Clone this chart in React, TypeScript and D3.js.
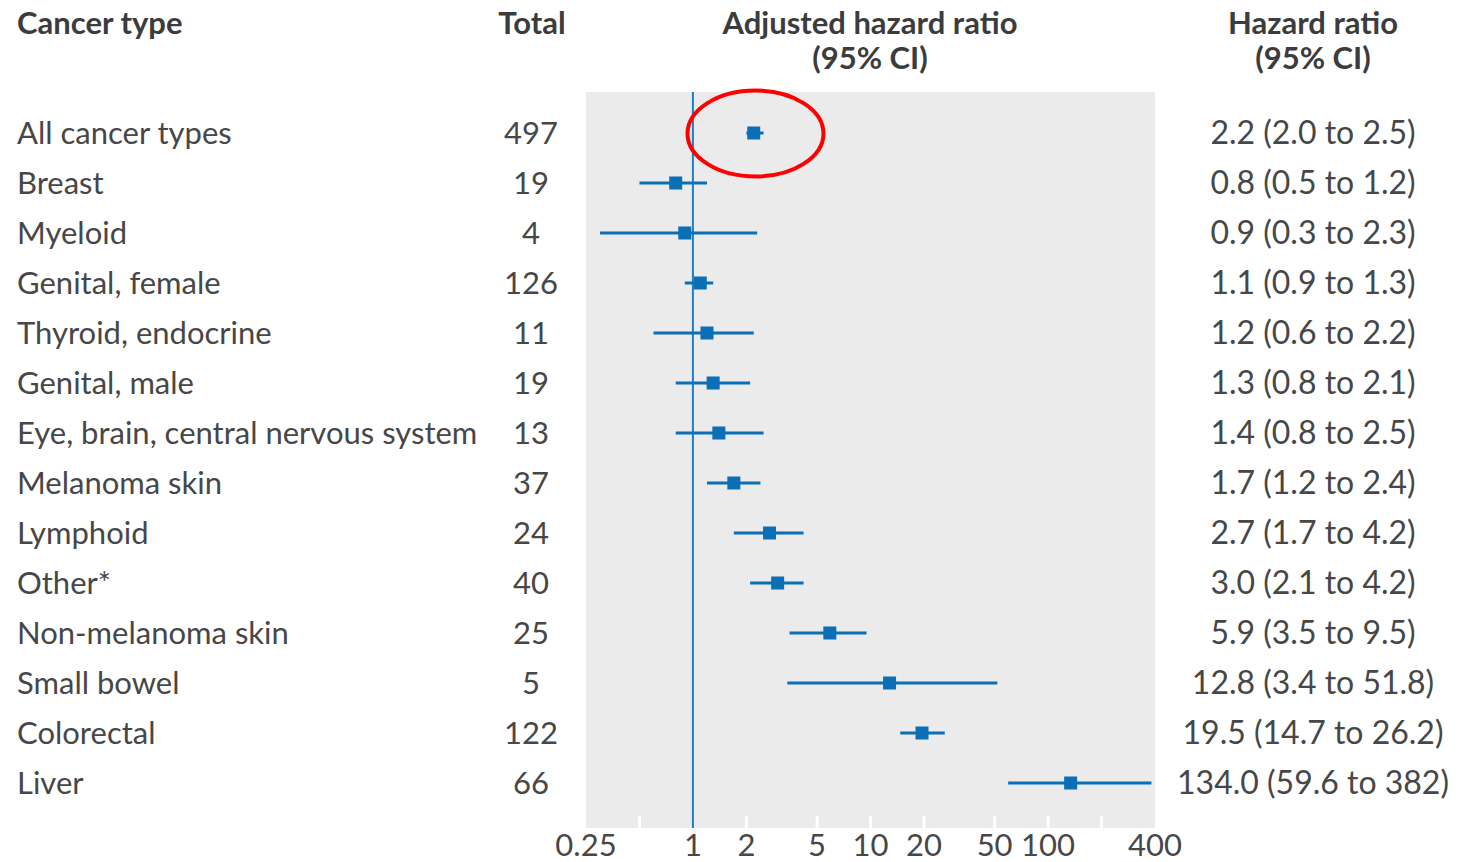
import React from "react";
import * as d3 from "d3";

// rows, top to bottom
const cancerTypes = [
  "All cancer types",
  "Breast",
  "Myeloid",
  "Genital, female",
  "Thyroid, endocrine",
  "Genital, male",
  "Eye, brain, central nervous system",
  "Melanoma skin",
  "Lymphoid",
  "Other*",
  "Non-melanoma skin",
  "Small bowel",
  "Colorectal",
  "Liver",
];
const totals = [497, 19, 4, 126, 11, 19, 13, 37, 24, 40, 25, 5, 122, 66];
const hazard = [2.2, 0.8, 0.9, 1.1, 1.2, 1.3, 1.4, 1.7, 2.7, 3.0, 5.9, 12.8, 19.5, 134.0];
const ciLow = [2.0, 0.5, 0.3, 0.9, 0.6, 0.8, 0.8, 1.2, 1.7, 2.1, 3.5, 3.4, 14.7, 59.6];
const ciHigh = [2.5, 1.2, 2.3, 1.3, 2.2, 2.1, 2.5, 2.4, 4.2, 4.2, 9.5, 51.8, 26.2, 382];

const tickMarks = [0.5, 2, 5, 10, 20, 50, 100, 200];
const tickLabels = [0.25, 1, 2, 5, 10, 20, 50, 100, 400];

const W = 1473;
const H = 862;
const FONT = "Lato, 'Open Sans', sans-serif";
const BLUE = "#0a6fb6";
const TEXT = "#474747";
const FS = 31;

// upper limits of 100+ are printed without decimals
const fmt = (v: number) => (v >= 100 ? String(v) : v.toFixed(1));

export default function App() {
  const x = d3.scaleLog().domain([0.25, 400]).range([586, 1155]);
  const y = d3.scalePoint<string>().domain(cancerTypes).range([133, 783]);
  const plotTop = 92;
  const plotBottom = 828;
  const box = 13;

  return (
    <svg
      width={W}
      height={H}
      style={{ position: "absolute", left: 0, top: 0, background: "#fff" }}
      fontFamily={FONT}
    >
      {/* headers */}
      <g fontWeight={700} fontSize={FS} fill="#3c3c3c">
        <text x={17} y={34}>Cancer type</text>
        <text x={532} y={34} textAnchor="middle">Total</text>
        <text x={870} y={34} textAnchor="middle">Adjusted hazard ratio</text>
        <text x={870} y={69} textAnchor="middle">(95% CI)</text>
        <text x={1313} y={34} textAnchor="middle">Hazard ratio</text>
        <text x={1313} y={69} textAnchor="middle">(95% CI)</text>
      </g>

      {/* plot background */}
      <rect x={x(0.25)} y={plotTop} width={x(400) - x(0.25)} height={plotBottom - plotTop} fill="#ebebeb" />

      {/* white tick marks */}
      {tickMarks.map((t) => (
        <line key={t} x1={x(t)} x2={x(t)} y1={plotBottom - 12} y2={plotBottom} stroke="#fff" strokeWidth={3} />
      ))}

      {/* reference line at 1 */}
      <line x1={x(1)} x2={x(1)} y1={plotTop} y2={plotBottom} stroke="#1b7fc4" strokeWidth={2} />

      {/* tick labels */}
      <g fontSize={FS} fill={TEXT} textAnchor="middle">
        {tickLabels.map((t) => (
          <text key={t} x={x(t)} y={856}>{t}</text>
        ))}
      </g>

      {/* rows */}
      {cancerTypes.map((c, i) => {
        const cy = y(c) as number;
        return (
          <g key={c}>
            <text x={17} y={cy + 11} fontSize={FS} fill={TEXT}>{c}</text>
            <text x={531} y={cy + 11} fontSize={FS} fill={TEXT} textAnchor="middle">{totals[i]}</text>
            <line x1={x(ciLow[i])} x2={x(ciHigh[i])} y1={cy} y2={cy} stroke={BLUE} strokeWidth={3} />
            <rect x={x(hazard[i]) - box / 2} y={cy - box / 2} width={box} height={box} fill={BLUE} />
            <text x={1313} y={cy + 11} fontSize={FS + 1} fill={TEXT} textAnchor="middle">
              {`${hazard[i].toFixed(1)} (${ciLow[i].toFixed(1)} to ${fmt(ciHigh[i])})`}
            </text>
          </g>
        );
      })}

      {/* highlight */}
      <ellipse cx={755.5} cy={(y(cancerTypes[0]) as number) + 0.5} rx={68} ry={43} fill="none" stroke="#f00" strokeWidth={4} />
    </svg>
  );
}
